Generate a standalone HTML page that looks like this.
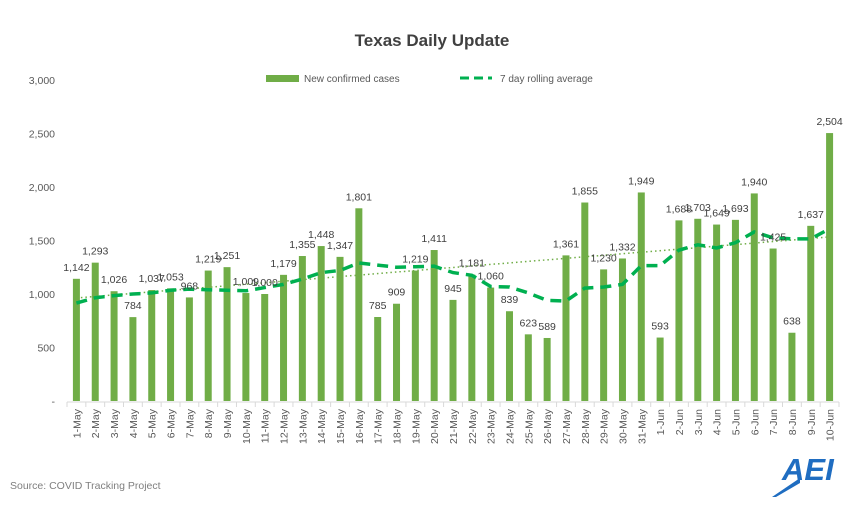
<!DOCTYPE html>
<html><head><meta charset="utf-8"><style>
body{margin:0;background:#fff;font-family:"Liberation Sans",sans-serif;}
svg text{font-family:"Liberation Sans",sans-serif;}
</style></head><body>
<svg id="chart" width="864" height="519">
<text x="432" y="46" text-anchor="middle" font-size="17" font-weight="bold" fill="#404040">Texas Daily Update</text>
<g>
<rect x="266" y="75" width="33" height="7" fill="#70ad47"/>
<text x="304" y="82" font-size="10" fill="#595959">New confirmed cases</text>
<line x1="460" y1="78" x2="492" y2="78" stroke="#00b050" stroke-width="3" stroke-dasharray="9,5"/>
<text x="500" y="82" font-size="10" fill="#595959">7 day rolling average</text>
</g>
<g id="yaxis"></g>
<g id="bars"></g>
<g id="lines"></g>
<g id="labels"></g>
<g id="xaxis"></g>
<text x="10" y="489" font-size="10.5" fill="#7f7f7f">Source: COVID Tracking Project</text>
<g>
<polygon points="772,497 800,478 800,483 776,497" fill="#1f6dc1"/>
<text x="782" y="480" font-size="31" font-weight="bold" font-style="italic" fill="#1f6dc1">AEI</text>
</g>
</svg>
<script>
const categories=["1-May","2-May","3-May","4-May","5-May","6-May","7-May","8-May","9-May","10-May","11-May","12-May","13-May","14-May","15-May","16-May","17-May","18-May","19-May","20-May","21-May","22-May","23-May","24-May","25-May","26-May","27-May","28-May","29-May","30-May","31-May","1-Jun","2-Jun","3-Jun","4-Jun","5-Jun","6-Jun","7-Jun","8-Jun","9-Jun","10-Jun"];
const cases=[1142,1293,1026,784,1037,1053,968,1219,1251,1009,1000,1179,1355,1448,1347,1801,785,909,1219,1411,945,1181,1060,839,623,589,1361,1855,1230,1332,1949,593,1688,1703,1649,1693,1940,1425,638,1637,2504];
const rolling=[915,965,985,1000,1010,1035,1045,1040,1035,1030,1060,1090,1140,1200,1220,1290,1270,1250,1255,1260,1200,1175,1070,1065,1010,940,935,1055,1065,1090,1265,1265,1410,1460,1430,1480,1580,1525,1515,1515,1610];
const trend=[963,1533];
const yTicks=[0,500,1000,1500,2000,2500,3000];
const yTickLabels=["-","500","1,000","1,500","2,000","2,500","3,000"];
const NS="http://www.w3.org/2000/svg";
const X0=67,X1=839,Y0=401,Y1=80,YMAX=3000;
const step=(X1-X0)/categories.length;
const x=i=>X0+(i+0.5)*step;
const y=v=>Y0-(v/YMAX)*(Y0-Y1);
function mk(tag,attrs,parent){const e=document.createElementNS(NS,tag);for(const k in attrs)e.setAttribute(k,attrs[k]);document.getElementById(parent).appendChild(e);return e;}
yTicks.forEach((t,i)=>{
 const e=mk("text",{x:55,y:y(t)+4,"text-anchor":"end","font-size":"10.5",fill:"#595959"},"yaxis");
 e.textContent=yTickLabels[i];
 
 
});
cases.forEach((v,i)=>{
 const r=mk("rect",{x:x(i)-3.5,y:y(v),width:7,height:Y0-y(v),fill:"#70ad47"},"bars");
 
 
 const t=mk("text",{x:x(i),y:y(v)-8,"text-anchor":"middle","font-size":"10.5",fill:"#404040"},"labels");
 t.textContent=v.toLocaleString("en-US");
 
 
});
const tl=mk("line",{x1:x(0),y1:y(trend[0]),x2:x(categories.length-1),y2:y(trend[1]),stroke:"#70ad47","stroke-width":1.5,"stroke-dasharray":"1.5,3"},"lines");


const pl=mk("polyline",{points:rolling.map((v,i)=>x(i)+","+y(v)).join(" "),fill:"none",stroke:"#00b050","stroke-width":3.5,"stroke-dasharray":"11,7"},"lines");


const ax=mk("line",{x1:X0,y1:Y0+1,x2:X1,y2:Y0+1,stroke:"#d9d9d9"},"xaxis");


for(let i=0;i<=categories.length;i++){
 const tk=mk("line",{x1:X0+i*step,y1:Y0+1,x2:X0+i*step,y2:Y0+6,stroke:"#d9d9d9"},"xaxis");
 
 
}
categories.forEach((c,i)=>{
 const t=mk("text",{x:0,y:0,"text-anchor":"end","font-size":"10.5",fill:"#595959",transform:`translate(${x(i)+4},${Y0+8}) rotate(-90)`},"xaxis");
 t.textContent=c;
 
 
});
</script>
</body></html>
